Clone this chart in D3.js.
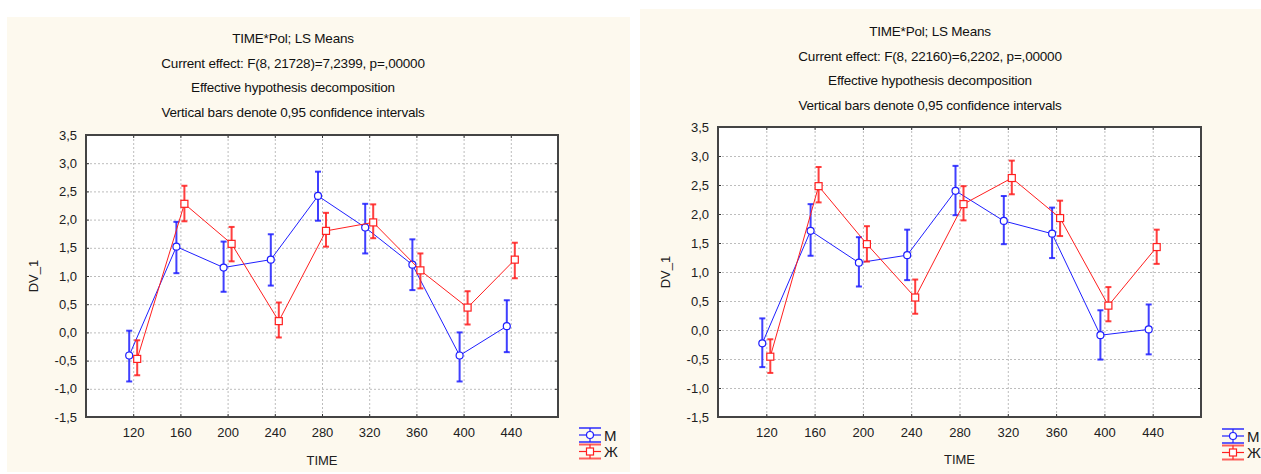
<!DOCTYPE html>
<html>
<head>
<meta charset="utf-8">
<script src="https://cdn.jsdelivr.net/npm/d3@7"></script>
<style>
  body { margin: 0; background: #ffffff; }
  svg { display: block; font-family: "Liberation Sans", Arial, sans-serif; }
</style>
</head>
<body>
<svg id="chart" width="1261" height="474"></svg>
<script>
// categories and ticks
const times = [120, 160, 200, 240, 280, 320, 360, 400, 440];
const yTicks = [-1.5, -1.0, -0.5, 0.0, 0.5, 1.0, 1.5, 2.0, 2.5, 3.0, 3.5];
const groups = ["M", "Ж"];

// left chart: LS means and 0,95 confidence limits
const leftM = [-0.41, 1.52, 1.15, 1.29, 2.42, 1.86, 1.20, -0.41, 0.11];
const leftMLow = [-0.87, 1.05, 0.72, 0.83, 1.98, 1.40, 0.75, -0.87, -0.35];
const leftMHigh = [0.03, 1.96, 1.61, 1.74, 2.85, 2.28, 1.65, 0.00, 0.57];
const leftF = [-0.47, 2.28, 1.57, 0.20, 1.80, 1.95, 1.10, 0.44, 1.29];
const leftFLow = [-0.76, 1.97, 1.26, -0.09, 1.52, 1.67, 0.78, 0.14, 0.96];
const leftFHigh = [-0.14, 2.60, 1.87, 0.53, 2.12, 2.27, 1.40, 0.73, 1.59];

// right chart
const rightM = [-0.23, 1.71, 1.16, 1.29, 2.40, 1.88, 1.66, -0.09, 0.01];
const rightMLow = [-0.64, 1.28, 0.75, 0.86, 1.98, 1.48, 1.24, -0.51, -0.42];
const rightMHigh = [0.20, 2.17, 1.60, 1.73, 2.83, 2.31, 2.11, 0.34, 0.44];
const rightF = [-0.46, 2.48, 1.48, 0.56, 2.17, 2.62, 1.93, 0.42, 1.43];
const rightFLow = [-0.74, 2.20, 1.18, 0.28, 1.89, 2.34, 1.62, 0.15, 1.14];
const rightFHigh = [-0.16, 2.81, 1.79, 0.87, 2.48, 2.92, 2.23, 0.74, 1.73];

const leftTitle = [
  "TIME*Pol; LS Means",
  "Current effect: F(8, 21728)=7,2399, p=,00000",
  "Effective hypothesis decomposition",
  "Vertical bars denote 0,95 confidence intervals"
];
const rightTitle = [
  "TIME*Pol; LS Means",
  "Current effect: F(8, 22160)=6,2202, p=,00000",
  "Effective hypothesis decomposition",
  "Vertical bars denote 0,95 confidence intervals"
];

const BLUE = "#1f1fff";
const RED = "#ff1f1f";
const svg = d3.select("#chart");

function fmt(d) {
  return d.toFixed(1).replace(".", ",");
}

function drawChart(cfg) {
  const g = svg.append("g");

  // cream panel
  g.append("rect")
    .attr("x", cfg.panel[0]).attr("y", cfg.panel[1])
    .attr("width", cfg.panel[2]).attr("height", cfg.panel[3])
    .style("fill", "#fdf9ee");

  const [px, py, pw, ph] = cfg.plot;
  const x = d3.scaleLinear().domain([80, 480]).range([px, px + pw]);
  const y = d3.scaleLinear().domain([-1.5, 3.5]).range([py + ph, py]);

  g.append("rect")
    .attr("x", px).attr("y", py).attr("width", pw).attr("height", ph)
    .style("fill", "#ffffff");

  // dotted grid
  const gridX = g.append("g")
    .attr("transform", `translate(0,${py + ph})`)
    .call(d3.axisBottom(x).tickValues(times).tickSize(-ph).tickFormat(""));
  const gridY = g.append("g")
    .attr("transform", `translate(${px},0)`)
    .call(d3.axisLeft(y).tickValues(yTicks.slice(1, -1)).tickSize(-pw).tickFormat(""));
  [gridX, gridY].forEach(a => {
    a.select(".domain").remove();
    a.selectAll("line").style("stroke", "#bdbdbd").style("stroke-dasharray", "2,2");
  });

  // tick labels
  const xAxis = g.append("g")
    .attr("transform", `translate(0,${py + ph})`)
    .call(d3.axisBottom(x).tickValues(times).tickSize(0).tickPadding(11));
  const yAxis = g.append("g")
    .attr("transform", `translate(${px},0)`)
    .call(d3.axisLeft(y).tickValues(yTicks).tickSize(0).tickPadding(9).tickFormat(fmt));
  [xAxis, yAxis].forEach(a => {
    a.select(".domain").remove();
    a.selectAll("text").style("font-size", "13px").style("fill", "#202020")
      .style("font-family", "'Liberation Sans', Arial, sans-serif");
  });

  // small inward ticks on all four sides
  const tl = 3;
  const inner = [
    [d3.axisTop(x).tickValues(times), `translate(0,${py})`, -tl],
    [d3.axisBottom(x).tickValues(times), `translate(0,${py + ph})`, -tl],
    [d3.axisLeft(y).tickValues(yTicks), `translate(${px},0)`, -tl],
    [d3.axisRight(y).tickValues(yTicks), `translate(${px + pw},0)`, -tl]
  ];
  inner.forEach(([ax, tr, size]) => {
    const a = g.append("g").attr("transform", tr).call(ax.tickSize(size).tickFormat(""));
    a.select(".domain").remove();
    a.selectAll("line").style("stroke", "#333").style("stroke-width", 1);
  });

  // frame
  g.append("rect")
    .attr("x", px).attr("y", py).attr("width", pw).attr("height", ph)
    .style("fill", "none").style("stroke", "#444").style("stroke-width", 2);

  // title
  cfg.title.forEach((line, i) => {
    g.append("text")
      .attr("x", cfg.titleX).attr("y", cfg.titleY + i * 24.5)
      .attr("text-anchor", "middle")
      .style("font-size", "13.5px").style("fill", "#111")
      .style("letter-spacing", "-0.2px")
      .text(line);
  });

  // axis labels
  g.append("text")
    .attr("transform", `translate(${cfg.yLabelX},${py + ph / 2}) rotate(-90)`)
    .attr("text-anchor", "middle")
    .style("font-size", "13px").style("fill", "#202020")
    .text("DV_1");
  g.append("text")
    .attr("x", px + pw / 2).attr("y", cfg.xLabelY)
    .attr("text-anchor", "middle")
    .style("font-size", "13px").style("fill", "#202020")
    .text("TIME");

  // series
  const off = 4;
  cfg.series.forEach((s, si) => {
    const dx = si === 0 ? -off : off;
    const pts = times.map((t, i) => ({ t: t, v: s.mean[i], lo: s.low[i], hi: s.high[i] }));
    const sg = g.append("g");

    sg.append("path")
      .datum(pts)
      .attr("d", d3.line().x(d => x(d.t) + dx).y(d => y(d.v)))
      .style("fill", "none").style("stroke", s.color).style("stroke-width", 1);

    // error bars
    const eb = sg.selectAll(".eb").data(pts).enter().append("g");
    eb.append("line")
      .attr("x1", d => x(d.t) + dx).attr("x2", d => x(d.t) + dx)
      .attr("y1", d => y(d.lo)).attr("y2", d => y(d.hi))
      .style("stroke", s.color).style("stroke-width", 2).style("opacity", 0.85);
    ["lo", "hi"].forEach(k => {
      eb.append("line")
        .attr("x1", d => x(d.t) + dx - 3).attr("x2", d => x(d.t) + dx + 3)
        .attr("y1", d => y(d[k])).attr("y2", d => y(d[k]))
        .style("stroke", s.color).style("stroke-width", 2).style("opacity", 0.85);
    });

    // markers
    if (s.shape === "circle") {
      sg.selectAll(".mk").data(pts).enter().append("circle")
        .attr("cx", d => x(d.t) + dx).attr("cy", d => y(d.v)).attr("r", 3.5)
        .style("fill", "#fff").style("stroke", s.color).style("stroke-width", 1.2);
    } else {
      sg.selectAll(".mk").data(pts).enter().append("rect")
        .attr("x", d => x(d.t) + dx - 3.5).attr("y", d => y(d.v) - 3.5)
        .attr("width", 7).attr("height", 7)
        .style("fill", "#fff").style("stroke", s.color).style("stroke-width", 1.2);
    }

    // legend entry
    const lx = cfg.legendX, ly = cfg.legendY + si * 16.5;
    const lg = g.append("g");
    [-7, 7].forEach(d => {
      lg.append("line").attr("x1", lx - 11).attr("x2", lx + 11)
        .attr("y1", ly + d).attr("y2", ly + d)
        .style("stroke", s.color).style("stroke-width", 2).style("opacity", 0.7);
    });
    lg.append("line").attr("x1", lx).attr("x2", lx).attr("y1", ly - 7).attr("y2", ly + 7)
      .style("stroke", s.color).style("stroke-width", 1.2);
    lg.append("line").attr("x1", lx - 11).attr("x2", lx + 11).attr("y1", ly).attr("y2", ly)
      .style("stroke", s.color).style("stroke-width", 1.2);
    if (s.shape === "circle") {
      lg.append("circle").attr("cx", lx).attr("cy", ly).attr("r", 3.5)
        .style("fill", "#fff").style("stroke", s.color).style("stroke-width", 1.2);
    } else {
      lg.append("rect").attr("x", lx - 3.5).attr("y", ly - 3.5).attr("width", 7).attr("height", 7)
        .style("fill", "#fff").style("stroke", s.color).style("stroke-width", 1.2);
    }
    lg.append("text").attr("x", lx + 14).attr("y", ly + 5.5)
      .style("font-size", "15px").style("fill", "#202020")
      .text(groups[si]);
  });
}

drawChart({
  panel: [7, 17, 623, 455],
  plot: [86, 135, 472, 282],
  title: leftTitle, titleX: 293, titleY: 43,
  yLabelX: 38, xLabelY: 465,
  legendX: 590, legendY: 435,
  series: [
    { mean: leftM, low: leftMLow, high: leftMHigh, color: BLUE, shape: "circle" },
    { mean: leftF, low: leftFLow, high: leftFHigh, color: RED, shape: "square" }
  ]
});

drawChart({
  panel: [640, 9, 621, 465],
  plot: [718, 127, 483, 290],
  title: rightTitle, titleX: 930, titleY: 36,
  yLabelX: 670, xLabelY: 464,
  legendX: 1233, legendY: 436,
  series: [
    { mean: rightM, low: rightMLow, high: rightMHigh, color: BLUE, shape: "circle" },
    { mean: rightF, low: rightFLow, high: rightFHigh, color: RED, shape: "square" }
  ]
});
</script>
</body>
</html>
